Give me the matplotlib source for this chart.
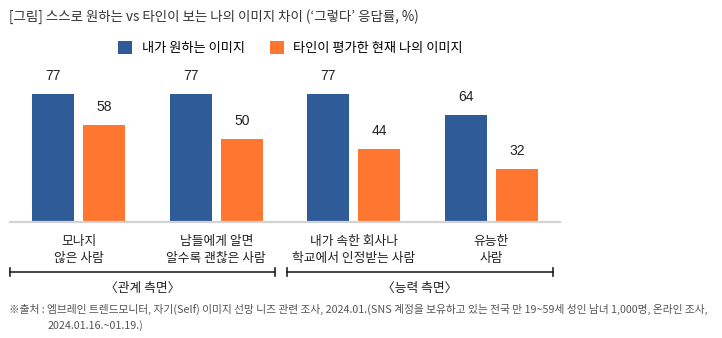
import matplotlib.pyplot as plt
import numpy as np

plt.rcParams['font.family'] = ['Noto Sans CJK KR', 'DejaVu Sans']

categories = ['모나지\n않은 사람', '남들에게 알면\n알수록 괜찮은 사람',
              '내가 속한 회사나\n학교에서 인정받는 사람', '유능한\n사람']
series_names = ['내가 원하는 이미지', '타인이 평가한 현재 나의 이미지']
wanted = [77, 77, 77, 64]
seen = [58, 50, 44, 32]
groups = ['〈관계 측면〉', '〈능력 측면〉']
title = "[그림] 스스로 원하는 vs 타인이 보는 나의 이미지 차이 (‘그렇다’ 응답률, %)"
source1 = "※출처 : 엠브레인 트렌드모니터, 자기(Self) 이미지 선망 니즈 관련 조사, 2024.01.(SNS 계정을 보유하고 있는 전국 만 19~59세 성인 남녀 1,000명, 온라인 조사,"
source2 = "2024.01.16.~01.19.)"

blue = '#2F5B99'
orange = '#FF7630'

W, H = 722, 338
fig = plt.figure(figsize=(W / 100, H / 100), dpi=100)
ax = fig.add_axes([10 / W, (H - 222) / H, 550 / W, 142 / H])

x = np.arange(len(categories))
bw = 0.305
off = 0.187
b1 = ax.bar(x - off, wanted, bw, color=blue, label=series_names[0])
b2 = ax.bar(x + off, seen, bw, color=orange, label=series_names[1])
for bars, vals in ((b1, wanted), (b2, seen)):
    for r, v in zip(bars, vals):
        ax.annotate(str(v), (r.get_x() + r.get_width() / 2, v), xytext=(0, 8),
                    textcoords='offset points', ha='center', va='bottom',
                    fontsize=10, color='#222222', family=['Arial', 'Liberation Sans', 'DejaVu Sans'])

ax.set_xlim(-0.5, 3.5)
ax.set_ylim(0, 85.2)
for s in ['top', 'right', 'left']:
    ax.spines[s].set_visible(False)
ax.spines['bottom'].set_color('#D3D3D3')
ax.spines['bottom'].set_linewidth(1.6)
ax.set_yticks([])
ax.set_xticks(x)
ax.set_xticklabels(categories, fontsize=9.2, color='#222222', linespacing=1.45)
ax.tick_params(axis='x', length=0, pad=9)


def fx(v):
    return v / W


def fy(v):
    return 1 - v / H


# brackets under the categories
for (x0, x1), lab in zip(((10, 275), (287, 553)), groups):
    fig.add_artist(plt.Line2D([fx(x0), fx(x1)], [fy(272), fy(272)], color='#222222', lw=1.2))
    for xe in (x0, x1):
        fig.add_artist(plt.Line2D([fx(xe), fx(xe)], [fy(268), fy(276)], color='#222222', lw=1.2))
    fig.text(fx((x0 + x1) / 2), fy(288), lab, ha='center', va='center', fontsize=9.2, color='#222222')

fig.text(fx(9), fy(17), title, ha='left', va='center', fontsize=9.7, color='#333333')

# legend
fig.legend(handles=[b1, b2], labels=series_names, loc='center left',
           bbox_to_anchor=(fx(106), fy(48)), ncol=2, frameon=False,
           fontsize=9.5, handlelength=1.1, handleheight=1.1, columnspacing=1.9,
           handletextpad=0.7)

fig.text(fx(9), fy(309), source1, ha='left', va='center', fontsize=7.75, color='#555555')
fig.text(fx(48), fy(326), source2, ha='left', va='center', fontsize=7.75, color='#555555')

fig.savefig('out.png', dpi=100)
